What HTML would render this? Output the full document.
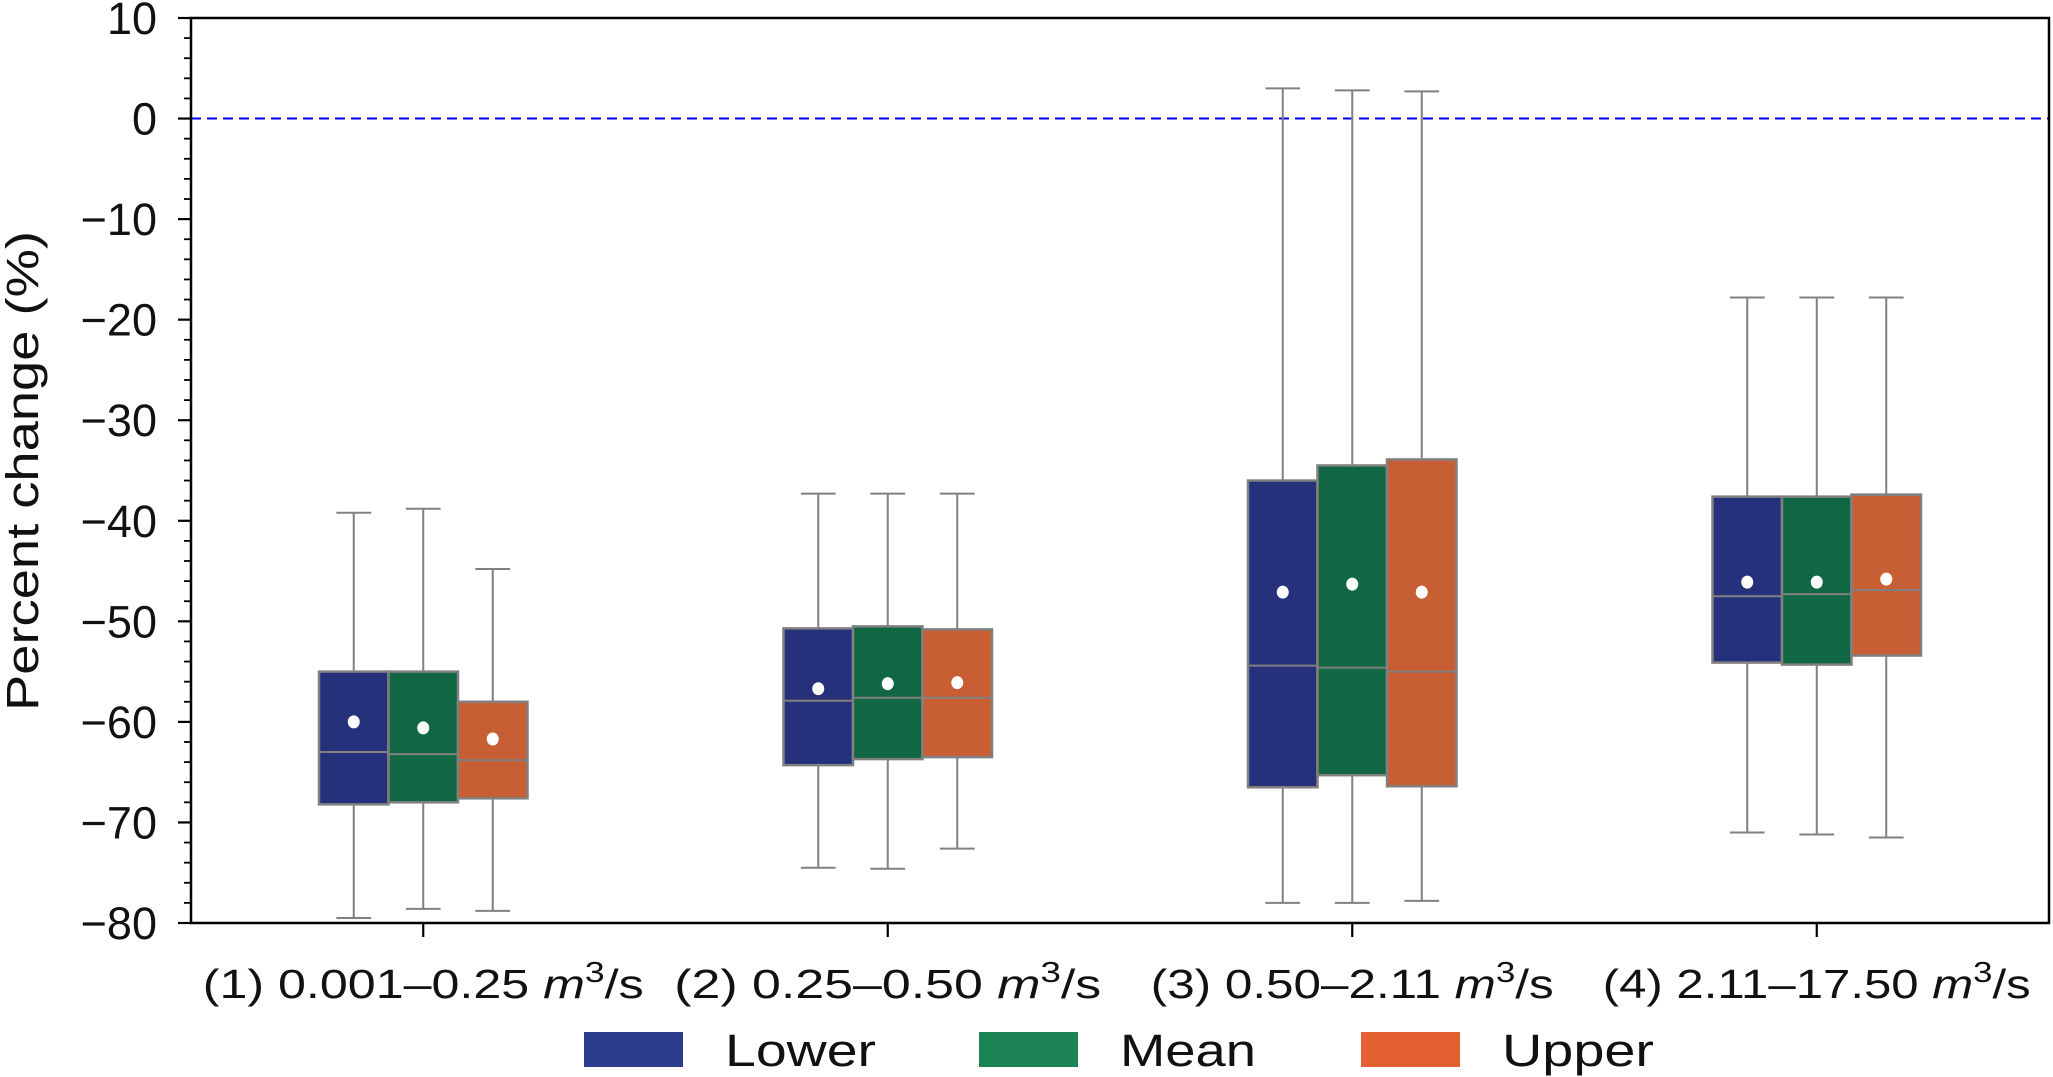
<!DOCTYPE html>
<html><head><meta charset="utf-8"><style>
html,body{margin:0;padding:0;background:#fff;}
svg{display:block;font-family:"Liberation Sans",sans-serif;}
</style></head><body>
<svg id="chart" width="2053" height="1077" viewBox="0 0 2053 1077" xmlns="http://www.w3.org/2000/svg">
<rect x="0" y="0" width="2053" height="1077" fill="#fff"/>
<g id="plot"></g>
</svg>
<script>
const categories = ["(1) 0.001–0.25", "(2) 0.25–0.50", "(3) 0.50–2.11", "(4) 2.11–17.50"];
const seriesNames = ["Lower", "Mean", "Upper"];
// per series per category: [whiskerHigh, q3, median, q1, whiskerLow]
const lowerStats = [[-39.2,-55,-63,-68.2,-79.5],[-37.3,-50.7,-57.9,-64.3,-74.5],[3,-36,-54.4,-66.5,-78],[-17.8,-37.6,-47.5,-54.1,-71]];
const meanStats  = [[-38.8,-55,-63.2,-68,-78.6],[-37.3,-50.5,-57.6,-63.7,-74.6],[2.8,-34.5,-54.6,-65.3,-78],[-17.8,-37.6,-47.3,-54.3,-71.2]];
const upperStats = [[-44.8,-58,-63.8,-67.6,-78.8],[-37.3,-50.8,-57.6,-63.5,-72.6],[2.7,-33.9,-55,-66.4,-77.8],[-17.8,-37.4,-46.9,-53.4,-71.5]];
const lowerMeans = [-60,-56.7,-47.1,-46.1];
const meanMeans  = [-60.6,-56.2,-46.3,-46.1];
const upperMeans = [-61.7,-56.1,-47.1,-45.8];
const yTicks = [10,0,-10,-20,-30,-40,-50,-60,-70,-80];

const NS="http://www.w3.org/2000/svg";
const g=document.getElementById('plot');
const L=191,R=2049,T=18,B=923,yMin=-80,yMax=10;
function y(v){return T+(yMax-v)/(yMax-yMin)*(B-T);}
const band=(R-L)/categories.length;
function xc(i){return L+band*(i+0.5);}
const boxW=69.5;
function mk(tag,attrs,parent){const e=document.createElementNS(NS,tag);for(const k in attrs)e.setAttribute(k,attrs[k]);(parent||g).appendChild(e);return e;}

let zl=mk('line',{x1:L,x2:R,y1:y(0),y2:y(0),stroke:'#0000ee','stroke-width':2,'stroke-dasharray':'10,6'});



const stats=[lowerStats,meanStats,upperStats];
const means=[lowerMeans,meanMeans,upperMeans];
const fills=['#25317a','#116643','#c85e34'];
const legendFills=['#2d3d8e','#1b8354','#e36131'];
const gray='#808080';
for(let s=0;s<3;s++){
  for(let c=0;c<categories.length;c++){
    const st=stats[s][c];
    const cx=xc(c)+(s-1)*boxW;
    const grp=mk('g',{});
    
    
    mk('line',{x1:cx,x2:cx,y1:y(st[0]),y2:y(st[1]),stroke:gray,'stroke-width':2},grp);
    mk('line',{x1:cx,x2:cx,y1:y(st[3]),y2:y(st[4]),stroke:gray,'stroke-width':2},grp);
    mk('line',{x1:cx-boxW/4,x2:cx+boxW/4,y1:y(st[0]),y2:y(st[0]),stroke:gray,'stroke-width':2},grp);
    mk('line',{x1:cx-boxW/4,x2:cx+boxW/4,y1:y(st[4]),y2:y(st[4]),stroke:gray,'stroke-width':2},grp);
    mk('rect',{x:cx-boxW/2,y:y(st[1]),width:boxW,height:y(st[3])-y(st[1]),fill:fills[s],stroke:gray,'stroke-width':2.5},grp);
    mk('line',{x1:cx-boxW/2,x2:cx+boxW/2,y1:y(st[2]),y2:y(st[2]),stroke:gray,'stroke-width':2},grp);
    mk('ellipse',{cx:cx,cy:y(means[s][c]),rx:6,ry:6.5,fill:'#fff'},grp);
  }
}
let fr=mk('rect',{x:L,y:T,width:R-L,height:B-T,fill:'none',stroke:'#000','stroke-width':2.5});


for(let v=yMin;v<=yMax;v+=2){
  if(v%10!==0) mk('line',{x1:L-7,x2:L,y1:y(v),y2:y(v),stroke:'#000','stroke-width':1.8});
}
yTicks.forEach(v=>{
  mk('line',{x1:L-13,x2:L,y1:y(v),y2:y(v),stroke:'#000','stroke-width':2.2});
  const t=mk('text',{x:157,y:y(v)+16,'text-anchor':'end','font-size':45,fill:'#111'});
  t.textContent=(v<0?'\u2212'+(-v):String(v));
  
  
});
const xLabelW=[441,427,403,428];
categories.forEach((c,i)=>{
  mk('line',{x1:xc(i),x2:xc(i),y1:B,y2:B+14,stroke:'#000','stroke-width':2.2});
  const t=mk('text',{x:xc(i)-xLabelW[i]/2,y:998,'font-size':41,fill:'#111',textLength:xLabelW[i],lengthAdjust:'spacingAndGlyphs'});
  
  
  t.appendChild(document.createTextNode(c+' '));
  const m=mk('tspan',{'font-style':'italic'},t);m.textContent='m';
  const sup=mk('tspan',{'font-size':29,dy:-16},t);sup.textContent='3';
  const rest=mk('tspan',{dy:16},t);rest.textContent='/s';
});
const yl=mk('text',{x:0,y:0,transform:'translate(38,471) rotate(-90)','text-anchor':'middle','font-size':45,fill:'#111',textLength:480,lengthAdjust:'spacingAndGlyphs'});
yl.textContent='Percent change (%)';


const lx=[584,979,1361];
const lw=[151,136,152];
seriesNames.forEach((n,i)=>{
  const lg=mk('g',{});
  
  
  mk('rect',{x:lx[i],y:1032,width:99,height:35,fill:legendFills[i]},lg);
  const t=mk('text',{x:lx[i]+141,y:1066,'font-size':45,fill:'#111',textLength:lw[i],lengthAdjust:'spacingAndGlyphs'},lg);
  t.textContent=n;
});
</script>
</body></html>
